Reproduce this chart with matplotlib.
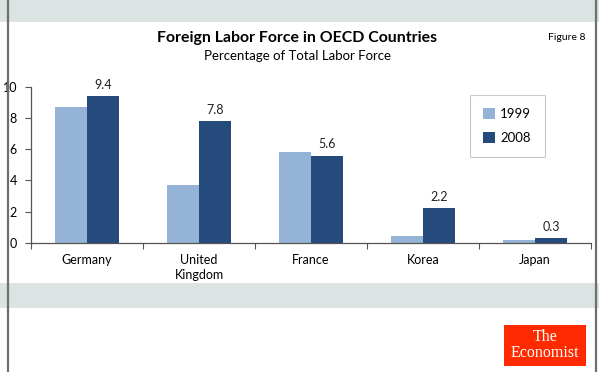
import matplotlib
matplotlib.use("Agg")
import matplotlib.pyplot as plt
from matplotlib.patches import Rectangle
import numpy as np

categories = ["Germany", "United\nKingdom", "France", "Korea", "Japan"]
values_1999 = [8.7, 3.7, 5.8, 0.4, 0.2]
values_2008 = [9.4, 7.8, 5.6, 2.2, 0.3]
series_names = ["1999", "2008"]
yticks = [0, 2, 4, 6, 8, 10]

C1999 = "#95b3d7"
C2008 = "#254a7c"
BAND = "#dce4e3"
FONT = "Lato"

W, H = 599, 372
fig = plt.figure(figsize=(W / 100, H / 100), dpi=100)
fig.patch.set_facecolor("white")

def fx(px):
    return px / W

def fy(py):
    return 1 - py / H

# bands
fig.patches.append(Rectangle((0, fy(22)), 1, 22 / H, transform=fig.transFigure,
                             facecolor=BAND, edgecolor="none", zorder=0))
fig.patches.append(Rectangle((0, fy(308)), 1, 25 / H, transform=fig.transFigure,
                             facecolor=BAND, edgecolor="none", zorder=0))
# borders
fig.add_artist(plt.Line2D([fx(7.5), fx(7.5)], [0, 1], transform=fig.transFigure,
                          color="#6e6e6e", lw=1.6))
fig.add_artist(plt.Line2D([fx(595.5), fx(595.5)], [0, 1], transform=fig.transFigure,
                          color="#6e6e6e", lw=1.6))

ax = fig.add_axes([fx(31), fy(242.7), fx(591) - fx(31), 155.7 / H])
ax.set_facecolor("none")
x = np.arange(len(categories))
bw = 0.286
ax.bar(x - bw / 2, values_1999, bw, color=C1999, label=series_names[0])
ax.bar(x + bw / 2, values_2008, bw, color=C2008, label=series_names[1])
for xi, v in zip(x, values_2008):
    ax.text(xi + bw / 2, v + 0.35, f"{v:.1f}", ha="center", va="bottom",
            fontsize=9, family=FONT, color="#222222")

ax.set_xlim(-0.5, len(categories) - 0.5)
ax.set_ylim(0, 10)
ax.set_yticks(yticks)
ax.set_yticklabels([str(t) for t in yticks], family=FONT, fontsize=9)
ax.set_xticks(np.arange(-0.5, len(categories), 1.0))
ax.set_xticklabels([])
ax.set_xticks(x, minor=True)
ax.set_xticklabels(categories, minor=True, family=FONT, fontsize=9, linespacing=1.3)
ax.tick_params(axis="x", which="minor", length=0, pad=8)
ax.tick_params(axis="x", which="major", length=4, direction="out", color="#555555")
ax.tick_params(axis="y", length=4, direction="out", color="#555555", pad=6)
for s in ["top", "right"]:
    ax.spines[s].set_visible(False)
for s in ["left", "bottom"]:
    ax.spines[s].set_color("#555555")
    ax.spines[s].set_linewidth(0.9)

leg = ax.legend(loc="upper left", bbox_to_anchor=((470 - 31) / 560, (242.7 - 95) / 155.7),
                frameon=True, fancybox=False, prop={"family": FONT, "size": 9.5},
                handlelength=0.9, handleheight=0.9, handletextpad=0.4,
                labelspacing=0.9, borderpad=1.0, borderaxespad=0)
leg.get_frame().set_edgecolor("#bbbbbb")
leg.get_frame().set_linewidth(0.8)

fig.text(0.496, fy(38), "Foreign Labor Force in OECD Countries", ha="center", va="center",
         fontsize=11.4, fontweight="bold", family=FONT)
fig.text(0.496, fy(56), "Percentage of Total Labor Force", ha="center", va="center",
         fontsize=9.5, family=FONT)
fig.text(fx(585), fy(38), "Figure 8", ha="right", va="center", fontsize=7.5, family=FONT)

# logo
fig.patches.append(Rectangle((fx(504), fy(366)), fx(586) - fx(504), 41 / H,
                             transform=fig.transFigure, facecolor="#ff2a00",
                             edgecolor="none"))
fig.text(fx(545), fy(345), "The\nEconomist", ha="center", va="center", color="white",
         fontsize=11.5, family="Liberation Serif", linespacing=0.95,
         multialignment="center")

fig.savefig("out.png", dpi=100)
